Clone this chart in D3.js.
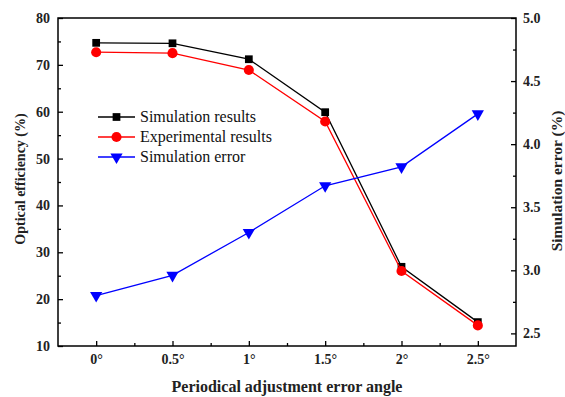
<!DOCTYPE html>
<html>
<head>
<meta charset="utf-8">
<script src="https://cdn.jsdelivr.net/npm/d3@7"></script>
<style>
body { margin: 0; background: #fff; }
text { font-family: "Liberation Serif", "Times New Roman", serif; }
</style>
</head>
<body>
<script>
// data
var angles = [0, 0.5, 1, 1.5, 2, 2.5];
var angleLabels = ["0°", "0.5°", "1°", "1.5°", "2°", "2.5°"];
var simResults = [74.7, 74.6, 71.2, 59.9, 26.9, 15.1];
var expResults = [72.7, 72.5, 68.9, 57.9, 26.0, 14.4];
var simError = [2.80, 2.96, 3.30, 3.67, 3.82, 4.24];
var leftTicks = [10, 20, 30, 40, 50, 60, 70, 80];
var rightTicks = [2.5, 3.0, 3.5, 4.0, 4.5, 5.0];

var w = 565, h = 397;
var m = {left: 58, right: 49, top: 18, bottom: 51};

var svg = d3.select("body").append("svg")
    .attr("width", w)
    .attr("height", h);

var x = d3.scaleLinear().domain([-0.25, 2.75]).range([m.left, w - m.right]);
var yL = d3.scaleLinear().domain([10, 80]).range([h - m.bottom, m.top]);
var yR = d3.scaleLinear().domain([2.4, 5.0]).range([h - m.bottom, m.top]);

// frame
svg.append("rect")
    .attr("x", m.left).attr("y", m.top)
    .attr("width", w - m.left - m.right)
    .attr("height", h - m.top - m.bottom)
    .attr("fill", "none").attr("stroke", "#000").attr("stroke-width", 1.5);

// axes, ticks pointing inside
var xAxis = svg.append("g")
    .attr("transform", "translate(0," + (h - m.bottom) + ")")
    .call(d3.axisBottom(x).tickValues(angles).tickSizeInner(-5).tickSizeOuter(0)
        .tickFormat(function(d, i) { return angleLabels[i]; }));
svg.append("g")
    .attr("transform", "translate(0," + (h - m.bottom) + ")")
    .call(d3.axisBottom(x).tickValues([0.25, 0.75, 1.25, 1.75, 2.25]).tickSize(-3).tickFormat(""));

var yAxisL = svg.append("g")
    .attr("transform", "translate(" + m.left + ",0)")
    .call(d3.axisLeft(yL).tickValues(leftTicks).tickSizeInner(-5).tickSizeOuter(0));
svg.append("g")
    .attr("transform", "translate(" + m.left + ",0)")
    .call(d3.axisLeft(yL).tickValues([15, 25, 35, 45, 55, 65, 75]).tickSize(-3).tickFormat(""));

var yAxisR = svg.append("g")
    .attr("transform", "translate(" + (w - m.right) + ",0)")
    .call(d3.axisRight(yR).tickValues(rightTicks).tickSizeInner(-5).tickSizeOuter(0)
        .tickFormat(d3.format(".1f")));
svg.append("g")
    .attr("transform", "translate(" + (w - m.right) + ",0)")
    .call(d3.axisRight(yR).tickValues([2.75, 3.25, 3.75, 4.25, 4.75]).tickSize(-3).tickFormat(""));

svg.selectAll(".domain").remove();
svg.selectAll(".tick line").attr("stroke", "#000").attr("stroke-width", 1.3);
svg.selectAll(".tick text")
    .style("font-family", "'Liberation Serif', serif")
    .style("font-size", "14px").style("font-weight", "bold").attr("fill", "#222");
xAxis.selectAll(".tick text").attr("dy", "1.05em");
yAxisL.selectAll(".tick text").attr("x", -8);
yAxisR.selectAll(".tick text").attr("x", 7);

// axis titles
svg.append("text")
    .attr("x", (m.left + w - m.right) / 2).attr("y", 392)
    .attr("text-anchor", "middle")
    .style("font-size", "16px").style("font-weight", "bold").attr("fill", "#222")
    .text("Periodical adjustment error angle");
svg.append("text")
    .attr("transform", "translate(25,179) rotate(-90)")
    .attr("text-anchor", "middle")
    .style("font-size", "14px").style("font-weight", "bold").attr("fill", "#222")
    .text("Optical efficiency (%)");
svg.append("text")
    .attr("transform", "translate(562,181) rotate(-90)")
    .attr("text-anchor", "middle")
    .style("font-size", "15.5px").style("font-weight", "bold").attr("fill", "#222")
    .text("Simulation error (%)");

// series
var series = [
    {name: "Simulation results", values: simResults, y: yL, color: "#000", shape: d3.symbolSquare, size: 60, rot: 0},
    {name: "Experimental results", values: expResults, y: yL, color: "#f00", shape: d3.symbolCircle, size: 80, rot: 0},
    {name: "Simulation error", values: simError, y: yR, color: "#00f", shape: d3.symbolTriangle, size: 65, rot: 180}
];

series.forEach(function(s) {
    var line = d3.line()
        .x(function(d, i) { return x(angles[i]); })
        .y(function(d) { return s.y(d); });
    svg.append("path")
        .datum(s.values)
        .attr("d", line)
        .attr("fill", "none")
        .attr("stroke", s.color)
        .attr("stroke-width", 1.3);
    svg.selectAll(null)
        .data(s.values)
        .enter()
        .append("path")
        .attr("d", d3.symbol().type(s.shape).size(s.size))
        .attr("transform", function(d, i) {
            return "translate(" + x(angles[i]) + "," + s.y(d) + ") rotate(" + s.rot + ")";
        })
        .attr("fill", s.color);
});

// legend
var legend = svg.append("g").attr("transform", "translate(98,117)");
series.forEach(function(s, i) {
    var g = legend.append("g").attr("transform", "translate(0," + i * 20 + ")");
    g.append("line").attr("x1", 0).attr("x2", 37).attr("y1", 0).attr("y2", 0)
        .attr("stroke", s.color).attr("stroke-width", 1.3);
    g.append("path")
        .attr("d", d3.symbol().type(s.shape).size(s.size))
        .attr("transform", "translate(18.5,0) rotate(" + s.rot + ")")
        .attr("fill", s.color);
    g.append("text")
        .attr("x", 42).attr("y", 5)
        .style("font-size", "16px").attr("fill", "#111")
        .text(s.name);
});
</script>
</body>
</html>
